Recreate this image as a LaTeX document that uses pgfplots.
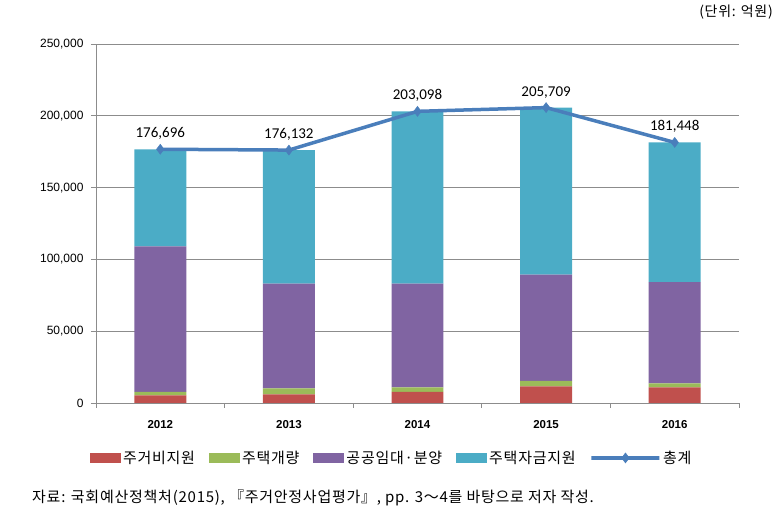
\documentclass[border=0pt]{standalone}
\usepackage{fontspec}
\setmainfont{Liberation Sans}
\newfontfamily\kr{Noto Sans CJK KR}
\newfontfamily\krl[LetterSpace=5]{Noto Sans CJK KR}
\newfontfamily\calib{Carlito}
\usepackage{pgfplots}
\pgfplotsset{compat=1.18}
\definecolor{cRed}{HTML}{C0504D}
\definecolor{cGreen}{HTML}{9BBB59}
\definecolor{cPurple}{HTML}{8064A2}
\definecolor{cTeal}{HTML}{4BACC6}
\definecolor{cLine}{HTML}{4A7EBB}
\definecolor{cGrid}{HTML}{8C8C8C}
\pgfplotsset{base/.style={scale only axis, width=643pt, height=359pt,
  xmin=-0.5, xmax=4.5, ymin=0, ymax=250000, clip=false},
  barleg/.style={legend image code/.code={\fill[##1] (0pt,-5pt) rectangle (31pt,5pt);}},
  lineleg/.style={legend image code/.code={\draw[mark repeat=2, mark phase=2, ##1] plot coordinates {(0pt,0pt) (8pt,0pt) (16pt,0pt)};}},
  totline/.style={cLine, line width=3.5pt, mark=diamond*, mark size=5pt, mark options={fill=cLine, draw=cLine, line width=0.5pt}}}
\begin{document}
\begin{tikzpicture}
\useasboundingbox (-96pt,-110pt) rectangle (683pt,403pt);
\begin{axis}[base,
  ybar stacked, bar width=0.404,
  axis x line*=bottom, axis y line*=left,
  axis line style={cGrid, line width=0.8pt},
  ymajorgrids, grid style={cGrid, line width=0.8pt},
  ytick={0,50000,100000,150000,200000,250000},
  scaled y ticks=false,
  tick align=outside, major tick length=5pt,
  ytick style={cGrid, line width=0.8pt},
  xtick={0,1,2,3,4},
  xticklabels={2012,2013,2014,2015,2016},
  xtick style={draw=none},
  yticklabel style={font=\fontsize{12}{14}\selectfont, xshift=-4pt, /pgf/number format/.cd, fixed, 1000 sep={,}, assume math mode=true},
  xticklabel style={font=\bfseries\fontsize{11.5}{13}\selectfont, yshift=-9pt},
  legend style={at={(0.46,-0.153)}, anchor=center, draw=none, fill=none,
    font=\krl\fontsize{15}{17}\selectfont, inner sep=0pt,
    /tikz/every even column/.append style={column sep=12pt}},
  legend columns=5,
]
\addplot[fill=cRed, draw=none, barleg]
  coordinates {(0,5300) (1,6000) (2,7800) (3,11500) (4,10800)};
\addlegendentry{주거비지원}
\addplot[fill=cGreen, draw=none, barleg]
  coordinates {(0,2500) (1,4200) (2,3000) (3,3900) (4,2800)};
\addlegendentry{주택개량}
\addplot[fill=cPurple, draw=none, barleg]
  coordinates {(0,101200) (1,73000) (2,72400) (3,74000) (4,70500)};
\addlegendentry{공공임대·분양}
\addplot[fill=cTeal, draw=none, barleg]
  coordinates {(0,67696) (1,92932) (2,119898) (3,116309) (4,97348)};
\addlegendentry{주택자금지원}
\addlegendimage{totline, lineleg}
\addlegendentry{총계}
\end{axis}
\begin{axis}[base,
  axis x line*=bottom, hide y axis,
  axis line style={cGrid, line width=0.8pt},
  xtick={-0.5,0.5,1.5,2.5,3.5,4.5}, xticklabels={},
  tick align=outside, major tick length=5pt,
  xtick style={cGrid, line width=0.8pt},
  /pgf/number format/.cd, fixed, 1000 sep={,}, assume math mode=true,
]
\addplot[totline,
  nodes near coords,
  every node near coord/.append style={font=\calib\fontsize{15}{17}\selectfont, text=black, anchor=south, yshift=6pt}]
  coordinates {(0,176696) (1,176132) (2,203098) (3,205709) (4,181448)};
\end{axis}
\node[anchor=east, font=\krl\fontsize{14}{16}\selectfont, inner sep=0pt] at (677pt,391pt) {(단위: 억원)};
\node[anchor=west, font=\krl\fontsize{15}{17}\selectfont, inner sep=0pt] at (-64pt,-95pt) {자료: 국회예산정책처(2015), 『주거안정사업평가』, pp. 3～4를 바탕으로 저자 작성.};
\end{tikzpicture}
\end{document}
